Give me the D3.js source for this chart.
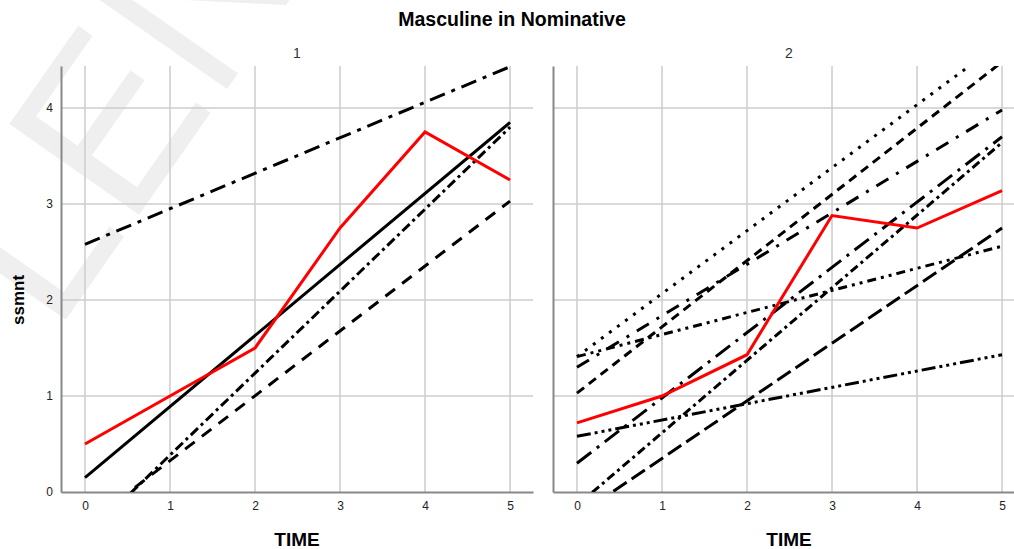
<!DOCTYPE html>
<html>
<head>
<meta charset="utf-8">
<script src="https://cdn.jsdelivr.net/npm/d3@7"></script>
<style>
  body { margin: 0; background: #fff; }
  svg { display: block; font-family: "Liberation Sans", Arial, sans-serif; }
</style>
</head>
<body>
<script>
// data
const time = [0, 1, 2, 3, 4, 5];
const panels = ["1", "2"];
const yTicks = [0, 1, 2, 3, 4];

// group means (red)
const mean1 = [0.5, 1.0, 1.5, 2.75, 3.75, 3.25];
const mean2 = [0.72, 1.0, 1.43, 2.88, 2.75, 3.14];

// individual fitted lines: value at TIME 0 and TIME 5
const fit1Start = [0.15, -0.47, -0.35, 2.58];
const fit1End   = [3.85, 3.80, 3.03, 4.43];
const fit2Start = [1.41, 1.41, 1.30, 1.03, 0.58, 0.30, -0.14, -0.25];
const fit2End   = [4.69, 2.56, 3.98, 4.48, 1.43, 3.70, 3.64, 2.75];

// dash styles for the black lines
const dash1 = [null, "10,4,3,4", "12,9", "16,7,4,7"];
const dash2 = ["3,7", "9,5,3,5,3,5", "14,9,3,9", "9,6", "14,4,3,4,3,4,3,4", "18,7,3,7", "9,4,3,4", "16,6"];

const W = 1014, H = 549;
const pw = 472, ph = 426, plotTop = 66;
const panelX = [61, 553];

const svg = d3.select("body").append("svg")
    .attr("width", W)
    .attr("height", H);

// faint watermark
svg.append("text")
    .attr("transform", "translate(55,335) rotate(-55)")
    .attr("font-size", 230)
    .attr("font-family", "Liberation Sans, Arial, sans-serif")
    .attr("fill", "#efefef")
    .text("LENA");

svg.append("text")
    .attr("x", 512).attr("y", 26)
    .attr("text-anchor", "middle")
    .attr("font-weight", "bold")
    .attr("font-size", 19.5)
    .text("Masculine in Nominative");

svg.append("text")
    .attr("transform", "translate(24,300) rotate(-90)")
    .attr("text-anchor", "middle")
    .attr("font-weight", "bold")
    .attr("font-size", 17)
    .text("ssmnt");

const x = d3.scaleLinear().domain([-0.282, 5.27]).range([0, pw]);
const y = d3.scaleLinear().domain([0, 4.4375]).range([ph, 0]);

const line = d3.line()
    .x(d => x(d[0]))
    .y(d => y(d[1]));

const fits = [[fit1Start, fit1End, dash1], [fit2Start, fit2End, dash2]];
const means = [mean1, mean2];

panels.forEach(function(p, i) {
  const g = svg.append("g")
      .attr("transform", "translate(" + panelX[i] + "," + plotTop + ")");

  g.append("clipPath").attr("id", "clip" + i)
    .append("rect").attr("width", pw).attr("height", ph);

  // grid
  g.selectAll(".vg").data(time).enter().append("line")
      .attr("x1", d => x(d)).attr("x2", d => x(d))
      .attr("y1", 0).attr("y2", ph)
      .attr("stroke", "#cccccc").attr("stroke-width", 1.5);
  g.selectAll(".hg").data(yTicks.slice(1)).enter().append("line")
      .attr("x1", 0).attr("x2", pw)
      .attr("y1", d => y(d)).attr("y2", d => y(d))
      .attr("stroke", "#cccccc").attr("stroke-width", 1.5);

  // axes
  const xAxis = g.append("g")
      .attr("transform", "translate(0," + ph + ")")
      .call(d3.axisBottom(x).tickValues(time).tickFormat(d3.format("d")).tickSize(0).tickPadding(9));
  xAxis.select(".domain").attr("stroke", "#888").attr("stroke-width", 2);
  xAxis.selectAll("text").attr("font-size", 12).attr("font-family", "Liberation Sans, Arial, sans-serif").attr("fill", "#222");

  const yAxis = g.append("g")
      .call(d3.axisLeft(y).tickValues(yTicks).tickFormat(d3.format("d")).tickSize(0).tickPadding(8));
  yAxis.select(".domain").attr("stroke", "#888").attr("stroke-width", 2);
  yAxis.selectAll("text").attr("font-size", 12).attr("font-family", "Liberation Sans, Arial, sans-serif").attr("fill", "#222");
  if (i === 1) yAxis.selectAll("text").remove();

  // panel label and axis title
  g.append("text")
      .attr("x", pw / 2).attr("y", -8)
      .attr("text-anchor", "middle")
      .attr("font-size", 14)
      .attr("fill", "#333")
      .text(p);
  g.append("text")
      .attr("x", pw / 2).attr("y", ph + 54)
      .attr("text-anchor", "middle")
      .attr("font-weight", "bold")
      .attr("font-size", 19)
      .text("TIME");

  const plot = g.append("g").attr("clip-path", "url(#clip" + i + ")");
  const f = fits[i];
  f[0].forEach(function(s, k) {
    plot.append("path")
        .datum([[time[0], s], [time[5], f[1][k]]])
        .attr("d", line)
        .attr("fill", "none")
        .attr("stroke", "#000")
        .attr("stroke-width", 3)
        .attr("stroke-dasharray", f[2][k]);
  });

  plot.append("path")
      .datum(time.map((t, k) => [t, means[i][k]]))
      .attr("d", line)
      .attr("fill", "none")
      .attr("stroke", "#ff0000")
      .attr("stroke-width", 3);
});
</script>
</body>
</html>
